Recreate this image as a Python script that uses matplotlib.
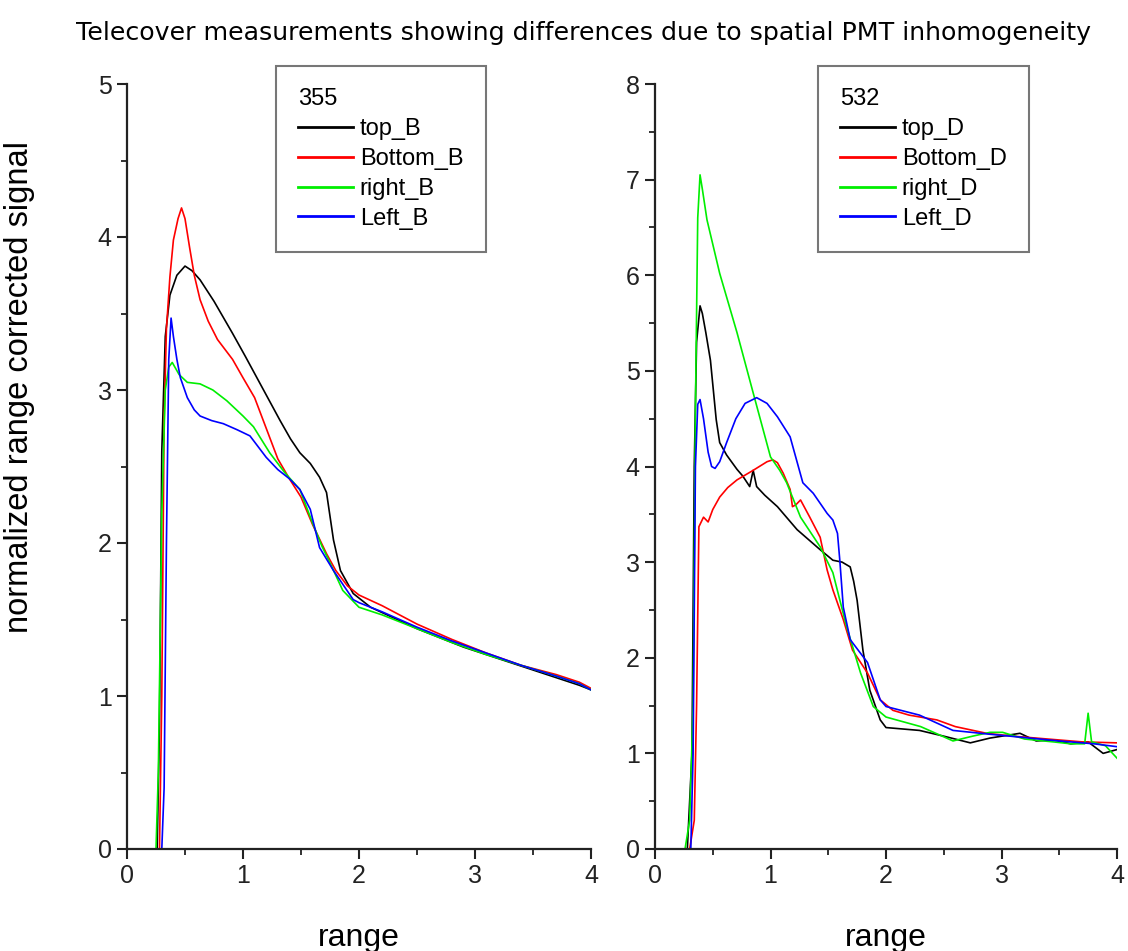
import matplotlib
matplotlib.use("Agg")
import matplotlib.pyplot as plt
from matplotlib.ticker import MultipleLocator

# 355 nm channel (left panel)
top_B_x = [0.22, 0.26, 0.28, 0.30, 0.33, 0.37, 0.43, 0.50, 0.56, 0.63, 0.75, 0.91, 1.02, 1.12, 1.22, 1.32,
           1.41, 1.49, 1.58, 1.66, 1.72, 1.78, 1.84, 1.95, 2.1, 2.3, 2.5, 2.7, 2.9, 3.1, 3.3, 3.5, 3.7, 3.9, 4.0]
top_B_y = [0, 0, 0.8, 2.6, 3.35, 3.62, 3.75, 3.81, 3.78, 3.72, 3.58, 3.37, 3.22, 3.08, 2.94, 2.80,
           2.68, 2.59, 2.52, 2.43, 2.33, 2.02, 1.82, 1.67, 1.58, 1.51, 1.44, 1.38, 1.32, 1.27, 1.22, 1.17, 1.12, 1.07, 1.04]

bottom_B_x = [0.22, 0.28, 0.30, 0.32, 0.34, 0.37, 0.40, 0.44, 0.47, 0.50, 0.54, 0.58, 0.63, 0.70, 0.78, 0.91,
              1.0, 1.1, 1.2, 1.3, 1.4, 1.5, 1.6, 1.72, 1.80, 1.90, 2.0, 2.2, 2.5, 2.8, 3.1, 3.4, 3.7, 3.9, 4.0]
bottom_B_y = [0, 0, 1.0, 2.8, 3.4, 3.74, 3.98, 4.12, 4.19, 4.12, 3.93, 3.75, 3.59, 3.45, 3.33, 3.20,
              3.08, 2.95, 2.75, 2.55, 2.42, 2.30, 2.12, 1.93, 1.82, 1.72, 1.66, 1.59, 1.47, 1.37, 1.28, 1.20, 1.14, 1.09, 1.05]

right_B_x = [0.20, 0.25, 0.27, 0.30, 0.33, 0.36, 0.39, 0.45, 0.52, 0.63, 0.74, 0.86, 1.0, 1.09, 1.23, 1.36,
             1.49, 1.60, 1.68, 1.75, 1.86, 2.0, 2.2, 2.5, 2.8, 3.1, 3.4, 3.7, 3.9, 4.0]
right_B_y = [0, 0, 0.5, 2.2, 3.0, 3.15, 3.18, 3.10, 3.05, 3.04, 3.00, 2.93, 2.83, 2.76, 2.59, 2.46,
             2.35, 2.13, 1.98, 1.87, 1.69, 1.58, 1.53, 1.44, 1.35, 1.27, 1.20, 1.13, 1.08, 1.04]

left_B_x = [0.24, 0.30, 0.32, 0.34, 0.36, 0.38, 0.40, 0.43, 0.46, 0.52, 0.58, 0.63, 0.73, 0.83, 0.95, 1.06,
            1.2, 1.3, 1.4, 1.49, 1.58, 1.66, 1.78, 1.95, 2.0, 2.2, 2.5, 2.8, 3.1, 3.4, 3.7, 3.9, 4.0]
left_B_y = [0, 0, 0.4, 2.0, 3.2, 3.47, 3.35, 3.2, 3.08, 2.95, 2.87, 2.83, 2.80, 2.78, 2.74, 2.70,
            2.56, 2.48, 2.42, 2.35, 2.22, 1.97, 1.82, 1.63, 1.61, 1.55, 1.45, 1.36, 1.28, 1.20, 1.13, 1.08, 1.04]

# 532 nm channel (right panel)
top_D_x = [0.22, 0.28, 0.32, 0.34, 0.36, 0.39, 0.41, 0.44, 0.48, 0.53, 0.56, 0.62, 0.71, 0.76, 0.82, 0.85,
           0.88, 0.95, 1.06, 1.23, 1.43, 1.54, 1.62, 1.69, 1.72, 1.75, 1.80, 1.86, 1.95, 2.0, 2.29, 2.5,
           2.73, 2.9, 3.16, 3.3, 3.45, 3.6, 3.75, 3.88, 4.0]
top_D_y = [0, 0, 1.0, 4.0, 5.3, 5.68, 5.6, 5.4, 5.11, 4.49, 4.25, 4.12, 3.97, 3.90, 3.79, 3.96,
           3.79, 3.70, 3.58, 3.34, 3.13, 3.02, 3.0, 2.95, 2.8, 2.60, 2.08, 1.66, 1.35, 1.27, 1.24, 1.18,
           1.11, 1.16, 1.21, 1.13, 1.14, 1.10, 1.12, 1.0, 1.04]

bottom_D_x = [0.22, 0.30, 0.34, 0.36, 0.38, 0.42, 0.46, 0.50, 0.56, 0.63, 0.71, 0.85, 0.97, 1.02, 1.06, 1.11,
              1.17, 1.19, 1.22, 1.26, 1.34, 1.43, 1.49, 1.54, 1.63, 1.71, 1.84, 1.95, 2.06, 2.2, 2.44, 2.6,
              2.87, 3.1, 3.4, 3.7, 4.0]
bottom_D_y = [0, 0, 0.3, 1.5, 3.37, 3.47, 3.42, 3.55, 3.68, 3.78, 3.86, 3.96, 4.05, 4.07, 4.04, 3.93,
              3.76, 3.58, 3.60, 3.65, 3.47, 3.26, 2.92, 2.71, 2.40, 2.08, 1.84, 1.56, 1.45, 1.40, 1.35, 1.28,
              1.21, 1.18, 1.15, 1.12, 1.11]

right_D_x = [0.22, 0.26, 0.30, 0.33, 0.35, 0.37, 0.39, 0.41, 0.45, 0.56, 0.71, 0.85, 1.0, 1.08, 1.14, 1.26,
             1.43, 1.54, 1.66, 1.78, 1.89, 2.0, 2.15, 2.3, 2.45, 2.58, 2.75, 2.9, 3.01, 3.2, 3.45, 3.6,
             3.72, 3.75, 3.78, 3.9, 4.0]
right_D_y = [0, 0, 0.3, 1.5, 4.6, 6.6, 7.05, 6.9, 6.58, 6.02, 5.40, 4.77, 4.10, 3.96, 3.83, 3.47,
             3.16, 2.89, 2.32, 1.84, 1.49, 1.38, 1.33, 1.28, 1.20, 1.13, 1.18, 1.22, 1.22, 1.15, 1.12, 1.10,
             1.10, 1.42, 1.12, 1.08, 0.95]

left_D_x = [0.23, 0.31, 0.33, 0.35, 0.37, 0.39, 0.42, 0.46, 0.49, 0.52, 0.56, 0.62, 0.70, 0.78, 0.88, 0.97,
            1.06, 1.17, 1.28, 1.37, 1.45, 1.49, 1.54, 1.58, 1.60, 1.63, 1.69, 1.84, 1.95, 2.0, 2.29, 2.58,
            2.9, 3.16, 3.5, 3.8, 4.0]
left_D_y = [0, 0, 1.0, 4.0, 4.65, 4.70, 4.50, 4.15, 4.0, 3.98, 4.05, 4.25, 4.50, 4.66, 4.72, 4.66,
            4.52, 4.31, 3.83, 3.72, 3.58, 3.51, 3.44, 3.30, 3.02, 2.53, 2.19, 1.95, 1.56, 1.49, 1.40, 1.24,
            1.20, 1.17, 1.13, 1.10, 1.07]

colors = ['#000000', '#ff0000', '#00ee00', '#0000ff']

plt.rcParams['font.family'] = ['Liberation Sans', 'DejaVu Sans']

fig = plt.figure(figsize=(11.28, 9.51), dpi=100)
ax1 = fig.add_axes([127 / 1128, 1 - 849 / 951, 464 / 1128, 765 / 951])
ax2 = fig.add_axes([655 / 1128, 1 - 849 / 951, 462 / 1128, 765 / 951])

panels = [
    (ax1, '355', 5, [(top_B_x, top_B_y, 'top_B'), (bottom_B_x, bottom_B_y, 'Bottom_B'),
                     (right_B_x, right_B_y, 'right_B'), (left_B_x, left_B_y, 'Left_B')], 276),
    (ax2, '532', 8, [(top_D_x, top_D_y, 'top_D'), (bottom_D_x, bottom_D_y, 'Bottom_D'),
                     (right_D_x, right_D_y, 'right_D'), (left_D_x, left_D_y, 'Left_D')], 818),
]

for ax, wl, ymax, series, leg_x in panels:
    for (xs, ys, name), c in zip(series, colors):
        ax.plot(xs, ys, color=c, lw=1.2, label=name)
    ax.set_xlim(0, 4)
    ax.set_ylim(0, ymax)
    ax.xaxis.set_major_locator(MultipleLocator(1))
    ax.xaxis.set_minor_locator(MultipleLocator(0.5))
    ax.yaxis.set_major_locator(MultipleLocator(1))
    ax.yaxis.set_minor_locator(MultipleLocator(0.5))
    for s in ['top', 'right']:
        ax.spines[s].set_visible(False)
    for s in ['left', 'bottom']:
        ax.spines[s].set_linewidth(1.6)
        ax.spines[s].set_color('#222222')
    ax.tick_params(which='major', direction='out', length=7, width=1.5, labelsize=18, colors='#222222', pad=4)
    ax.tick_params(which='minor', direction='out', length=4, width=1.3, colors='#222222')
    ax.set_xlabel('range', fontsize=23)
    ax.xaxis.set_label_coords(0.5, -(938 - 849) / 765)
    ax.xaxis.label.set_va('center')
    leg = ax.legend(title=wl, loc='upper left', bbox_to_anchor=(leg_x / 1128, 1 - 66 / 951),
                    bbox_transform=fig.transFigure, fontsize=17, title_fontsize=17, alignment='left',
                    fancybox=False, framealpha=1, edgecolor='#777777', handlelength=2.3,
                    handletextpad=0.3, labelspacing=0.33, borderpad=0.95, borderaxespad=0)
    leg.get_frame().set_linewidth(1.5)
    for line in leg.get_lines():
        line.set_linewidth(2)

ax1.set_ylabel('normalized range corrected signal', fontsize=23.5)
ax1.yaxis.set_label_coords(-(127 - 35) / 464, (849 - 387) / 765)

fig.text(584 / 1128, 1 - 33 / 951, 'Telecover measurements showing differences due to spatial PMT inhomogeneity',
         ha='center', va='center', fontsize=18.2, family='DejaVu Sans')

fig.savefig('out.png', dpi=100)
